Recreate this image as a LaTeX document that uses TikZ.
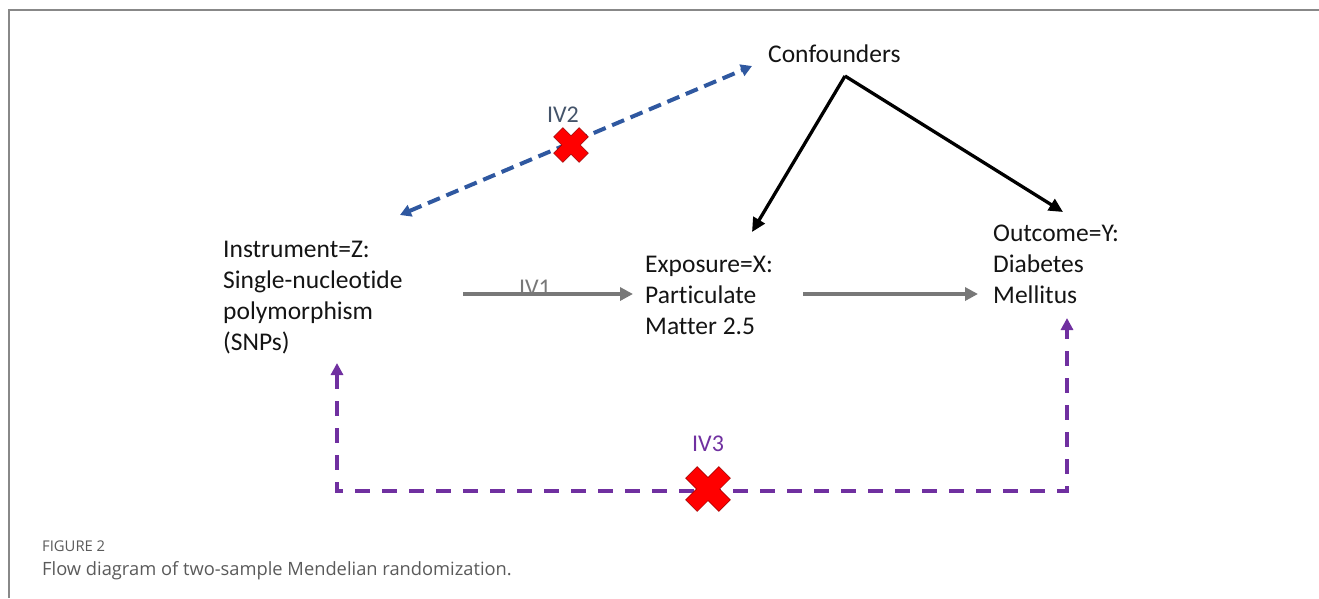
\documentclass[tikz,border=0pt]{standalone}
\usepackage{fontspec}
\setmainfont{Carlito}[Ligatures=NoCommon]
\newfontfamily\capfont{Open Sans}
\usetikzlibrary{arrows.meta}
\definecolor{txt}{RGB}{20,20,20}
\definecolor{grayline}{RGB}{120,120,120}
\definecolor{ivblue}{RGB}{47,88,160}
\definecolor{ivlab}{RGB}{68,84,106}
\definecolor{ivpurple}{RGB}{112,48,160}
\definecolor{xred}{RGB}{255,0,0}
\definecolor{framegray}{RGB}{136,136,136}
\definecolor{captxt}{RGB}{90,90,90}
\tikzset{
  pics/redx/.style 2 args={code={
    \filldraw[fill=xred, draw=xred!60!black, line width=0.5pt, rotate=45]
      (#2,#1) -- (#2,#2) -- (#1,#2) -- (#1,-#2) -- (#2,-#2) -- (#2,-#1)
      -- (-#2,-#1) -- (-#2,-#2) -- (-#1,-#2) -- (-#1,#2) -- (-#2,#2) -- (-#2,#1) -- cycle;}}
}
\begin{document}
\begin{tikzpicture}[x=1pt,y=-1pt,
  lbl/.style={anchor=base west, inner sep=0, align=left, font=\fontsize{25.5}{31}\selectfont, text=txt},
  ivlabel/.style={anchor=base, inner sep=0, font=\fontsize{24}{28}\selectfont},
  grayarrow/.style={draw=grayline, line width=3.3pt, -{Triangle[length=13pt,width=13pt]}},
  blackarrow/.style={draw=black, line width=3.3pt, -{Triangle[length=14pt,width=13pt]}},
  bluedash/.style={draw=ivblue, line width=4pt, dash pattern=on 13pt off 7pt, {Triangle[length=11pt,width=12pt]}-{Triangle[length=11pt,width=12pt]}},
  purpledash/.style={draw=ivpurple, line width=4pt, dash pattern=on 15pt off 12pt, {Triangle[length=12pt,width=12pt]}-{Triangle[length=12pt,width=12pt]}},
  capfig/.style={anchor=base west, inner sep=0, text=captxt, font=\capfont\fontsize{14.8}{17}\selectfont},
  captext/.style={anchor=base west, inner sep=0, text=captxt, font=\capfont\fontsize{18.3}{21}\selectfont}
]
\useasboundingbox (0,0) rectangle (1319,598);
\draw[framegray, line width=2pt] (9,598) -- (9,10) -- (1319,10);

% text nodes (anchored at the baseline of their last line)
\node[lbl] (conf) at (768,62) {Confounders};
\node[lbl] (inst) at (223,350) {Instrument=Z:\\Single-nucleotide\\polymorphism\\(SNPs)};
\node[lbl] (expo) at (645,334) {Exposure=X:\\Particulate\\Matter 2.5};
\node[lbl] (outc) at (993,303) {Outcome=Y:\\Diabetes\\Mellitus};

% connector end points
\coordinate (apex) at (845,76);
\coordinate (expotip) at (752,232);
\coordinate (outctip) at (1063,212);
\coordinate (ivonestart) at (463,294);
\coordinate (ivoneend) at (633,294);
\coordinate (xystart) at (803,294);
\coordinate (xyend) at (978,294);
\coordinate (ivtwoA) at (400,215);
\coordinate (ivtwoB) at (752,66);
\coordinate (pA) at (337,363);
\coordinate (pB) at (337,491);
\coordinate (pC) at (1067,491);
\coordinate (pD) at (1067,318);

% connectors
\draw[blackarrow] (apex) -- (expotip);
\draw[blackarrow] (apex) -- (outctip);
\draw[grayarrow] (ivonestart) -- (ivoneend);
\draw[grayarrow] (xystart) -- (xyend);
\draw[bluedash] (ivtwoA) -- (ivtwoB);
\draw[purpledash] (pA) -- (pB) -- (pC) -- (pD);

% labels
\node[ivlabel, text=grayline] (ivone) at (535,295) {IV1};
\node[ivlabel, text=ivlab] (ivtwo) at (563,122) {IV2};
\node[ivlabel, text=ivpurple] (ivthree) at (708,451) {IV3};

% red crosses
\pic at (571,145) {redx={18}{6.5}};
\pic at (708,489) {redx={23.5}{8.2}};

% caption
\node[capfig] (figlabel) at (42,551) {FIGURE 2};
\node[captext] (caption) at (42,575) {Flow diagram of two-sample Mendelian randomization.};
\end{tikzpicture}
\end{document}
